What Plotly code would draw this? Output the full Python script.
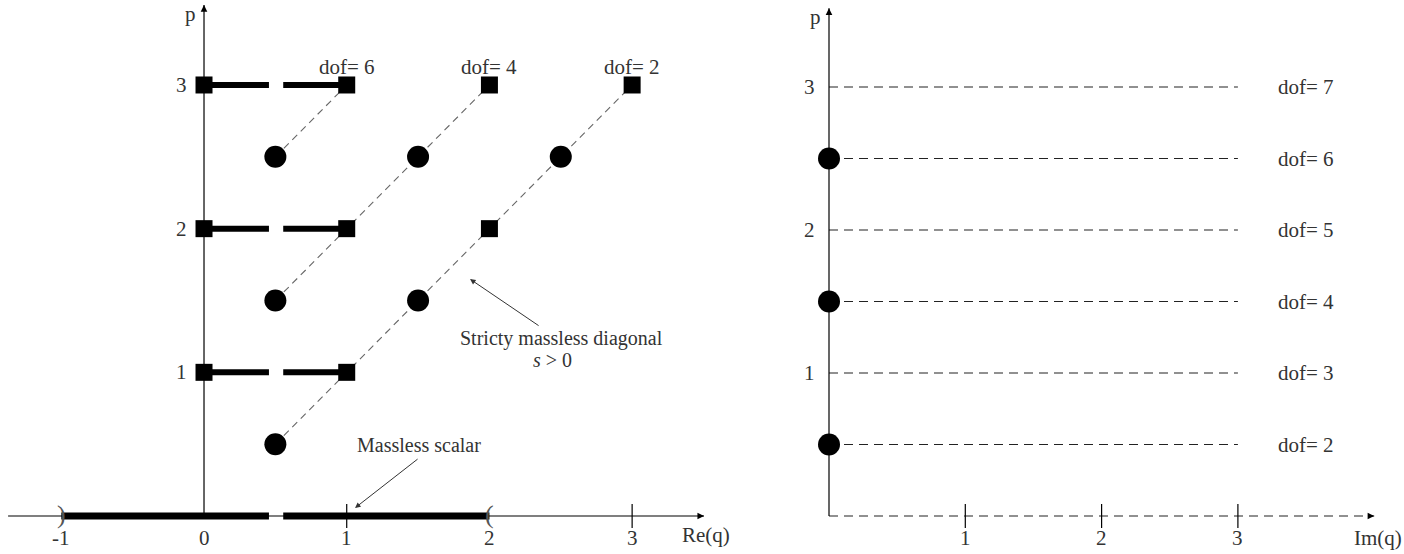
import plotly.graph_objects as go

# ---------------- data: left panel (Re(q), p) ----------------
sq_x = [0, 0, 0, 1, 1, 1, 2, 2, 3]
sq_p = [1, 2, 3, 1, 2, 3, 2, 3, 3]
circ_x = [0.5, 0.5, 1.5, 0.5, 1.5, 2.5]
circ_p = [0.5, 1.5, 1.5, 2.5, 2.5, 2.5]
diag_start_x = [0.5, 0.5, 0.5]
diag_start_p = [0.5, 1.5, 2.5]
diag_end_x = [3, 2, 1]
diag_end_p = [3, 3, 3]
bar_levels = [1, 2, 3]
bar_from, bar_to = 0, 1
gap_from, gap_to = 0.455, 0.555
scalar_from, scalar_to = -1, 2
top_dof_x = [1, 2, 3]
top_dof_p = [3, 3, 3]
top_dof_text = ["dof= 6", "dof= 4", "dof= 2"]
left_xticks = [-1, 0, 1, 2, 3]
left_xtick_text = ["-1", "0", "1", "2", "3"]
left_tick_marks = [1, 3]
left_yticks = [1, 2, 3]
left_yaxis_top = 3.556
left_xaxis_from, left_xaxis_to = -1.373, 3.504

# ---------------- data: right panel (Im(q), p) ----------------
right_circ_x = [0, 0, 0]
right_circ_p = [0.5, 1.5, 2.5]
right_levels = [0.5, 1, 1.5, 2, 2.5, 3]
right_dof_text = ["dof= 2", "dof= 3", "dof= 4", "dof= 5", "dof= 6", "dof= 7"]
right_line_end = 3.0
right_label_x = 3.5
right_xticks = [1, 2, 3]
right_xtick_text = ["1", "2", "3"]
right_yticks = [1, 2, 3]
right_yaxis_top = 3.55
right_xaxis_to = 4.0

FONT = "Liberation Serif"
TXT = "#333333"
BLACK = "#000000"

fig = go.Figure()

# --- left: dashed diagonals
dx, dy = [], []
for x0, p0, x1, p1 in zip(diag_start_x, diag_start_p, diag_end_x, diag_end_p):
    dx += [x0, x1, None]
    dy += [p0, p1, None]
fig.add_trace(go.Scatter(x=dx, y=dy, mode="lines", xaxis="x", yaxis="y",
                         line=dict(color="#666666", width=1.1, dash="7px,5px")))

# --- left: axes lines
fig.add_trace(go.Scatter(x=[left_xaxis_from, left_xaxis_to], y=[0, 0], mode="lines",
                         xaxis="x", yaxis="y", line=dict(color=BLACK, width=1.2)))
fig.add_trace(go.Scatter(x=[0, 0], y=[0, left_yaxis_top], mode="lines",
                         xaxis="x", yaxis="y", line=dict(color=BLACK, width=1.2)))
# tick marks
fig.add_trace(go.Scatter(x=left_tick_marks, y=[0] * len(left_tick_marks), mode="markers",
                         xaxis="x", yaxis="y",
                         marker=dict(symbol="line-ns", size=17, line=dict(color=BLACK, width=1.2))))

# --- left: thick horizontal bars with gap
bx, by = [], []
for p in bar_levels:
    bx += [bar_from, gap_from, None, gap_to, bar_to, None]
    by += [p, p, None, p, p, None]
fig.add_trace(go.Scatter(x=bx, y=by, mode="lines", xaxis="x", yaxis="y",
                         line=dict(color=BLACK, width=6)))
# thick bar on the axis
fig.add_trace(go.Scatter(x=[scalar_from, gap_from, None, gap_to, scalar_to],
                         y=[0, 0, None, 0, 0], mode="lines", xaxis="x", yaxis="y",
                         line=dict(color=BLACK, width=7)))
# brackets
fig.add_trace(go.Scatter(x=[scalar_from, scalar_to], y=[0, 0], mode="text",
                         text=[")", "("], textposition="middle center",
                         xaxis="x", yaxis="y",
                         textfont=dict(family=FONT, size=26, color="#555555")))

# --- left: squares and circles
fig.add_trace(go.Scatter(x=sq_x, y=sq_p, mode="markers", xaxis="x", yaxis="y",
                         marker=dict(symbol="square", size=17, color=BLACK)))
fig.add_trace(go.Scatter(x=circ_x, y=circ_p, mode="markers", xaxis="x", yaxis="y",
                         marker=dict(symbol="circle", size=22, color=BLACK)))

# --- right: dashed levels
rx, ry = [], []
for p in right_levels:
    rx += [0, right_line_end, None]
    ry += [p, p, None]
fig.add_trace(go.Scatter(x=rx, y=ry, mode="lines", xaxis="x2", yaxis="y2",
                         line=dict(color="#222222", width=1.2, dash="9px,6px")))
# right x-axis (dashed) and y-axis
fig.add_trace(go.Scatter(x=[0, right_xaxis_to], y=[0, 0], mode="lines", xaxis="x2", yaxis="y2",
                         line=dict(color="#222222", width=1.2, dash="9px,6px")))
fig.add_trace(go.Scatter(x=[0, 0], y=[0, right_yaxis_top], mode="lines", xaxis="x2", yaxis="y2",
                         line=dict(color=BLACK, width=1.2)))
fig.add_trace(go.Scatter(x=right_xticks, y=[0] * len(right_xticks), mode="markers",
                         xaxis="x2", yaxis="y2",
                         marker=dict(symbol="line-ns", size=17, line=dict(color=BLACK, width=1.2))))
fig.add_trace(go.Scatter(x=right_circ_x, y=right_circ_p, mode="markers", xaxis="x2", yaxis="y2",
                         marker=dict(symbol="circle", size=22, color=BLACK)))

ann = []
def label(x, y, text, xref, yref, xs=0, ys=0, size=21):
    ann.append(dict(x=x, y=y, xref=xref, yref=yref, text=text, showarrow=False,
                    xshift=xs, yshift=ys, xanchor="center", yanchor="middle",
                    font=dict(family=FONT, size=size, color=TXT)))

def arrow(x0, y0, x1, y1, xref, yref, width=1.2, color=BLACK):
    ann.append(dict(x=x1, y=y1, ax=x0, ay=y0, xref=xref, yref=yref, axref=xref, ayref=yref,
                    text="", showarrow=True, arrowhead=2, arrowsize=1.1, arrowwidth=width,
                    arrowcolor=color, standoff=0, startstandoff=0))

# left labels
for x, t in zip(left_xticks, left_xtick_text):
    label(x, 0, t, "x", "y", ys=-22)
for p in left_yticks:
    label(0, p, str(p), "x", "y", xs=-23)
for x, p, t in zip(top_dof_x, top_dof_p, top_dof_text):
    label(x, p, t, "x", "y", ys=18)
label(0, left_yaxis_top, "p", "x", "y", xs=-14, ys=-9)
label(left_xaxis_to, 0, "Re(q)", "x", "y", xs=2, ys=-19)
label(1.507, 0.494, "Massless scalar", "x", "y", size=20)
label(2.502, 1.235, "Stricty massless diagonal", "x", "y", size=20)
label(2.44, 1.085, "<i>s</i> &gt; 0", "x", "y", size=20)
arrow(left_xaxis_to - 0.05, 0, left_xaxis_to, 0, "x", "y")
arrow(0, left_yaxis_top - 0.05, 0, left_yaxis_top, "x", "y")
arrow(1.507, 0.404, 1.058, 0.056, "x", "y", width=1.0, color="#333333")
arrow(2.355, 1.318, 1.864, 1.649, "x", "y", width=1.0, color="#333333")

# right labels
for x, t in zip(right_xticks, right_xtick_text):
    label(x, 0, t, "x2", "y2", ys=-22)
for p in right_yticks:
    label(0, p, str(p), "x2", "y2", xs=-20)
for p, t in zip(right_levels, right_dof_text):
    label(right_label_x, p, t, "x2", "y2")
label(0, right_yaxis_top, "p", "x2", "y2", xs=-14, ys=-9)
label(right_xaxis_to, 0, "Im(q)", "x2", "y2", xs=4, ys=-22)
arrow(right_xaxis_to - 0.04, 0, right_xaxis_to, 0, "x2", "y2")
arrow(0, right_yaxis_top - 0.05, 0, right_yaxis_top, "x2", "y2")

split = 760 / 1404
fig.update_layout(
    width=1404, height=554,
    margin=dict(l=0, r=0, t=0, b=0),
    paper_bgcolor="white", plot_bgcolor="white",
    showlegend=False,
    xaxis=dict(domain=[0, split], range=[-1.4296, 3.896], visible=False),
    yaxis=dict(domain=[0, 1], range=[-0.2645, 3.5916], visible=False),
    xaxis2=dict(domain=[split, 1], range=[-0.5062, 4.2186], visible=False),
    yaxis2=dict(domain=[0, 1], range=[-0.2657, 3.6084], visible=False, anchor="x2"),
    annotations=ann,
)

fig.write_html("out.html", config={"displayModeBar": False},
               post_script="document.body.style.margin='0';document.body.style.overflow='hidden';")
